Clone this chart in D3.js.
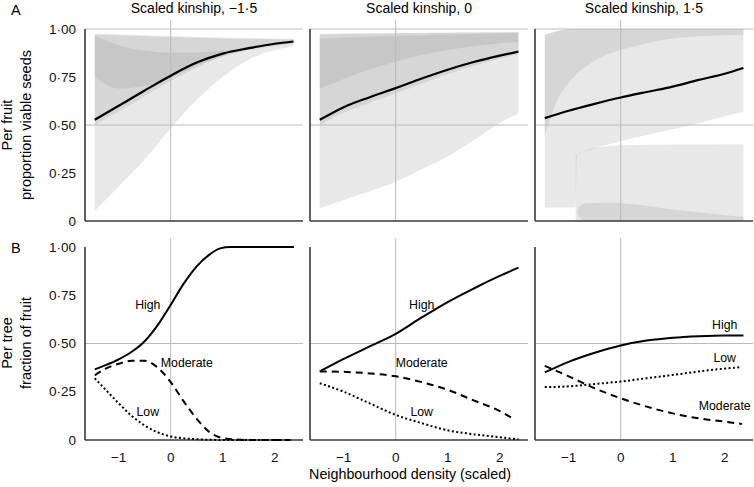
<!DOCTYPE html>
<html lang="en">
<head>
    <meta charset="UTF-8">
    <title>Seeds and fruit by neighbourhood density</title>
    <script src="https://d3js.org/d3.v7.min.js"></script>
    <style>
        body { margin: 0; background: #fff; }
        svg { font-family: "Liberation Sans", Arial, Helvetica, sans-serif; }
        .grid { stroke: #b9b9b9; stroke-width: 1; }
        .axis { stroke: #3a3a3a; stroke-width: 1.6; }
        .band { fill: #939393; fill-opacity: 0.21; }
        .tick { font-size: 13.5px; fill: #111; }
    </style>
</head>
<body>
<script>
    const width = 754;
    const height = 487;

    // titles / ticks
    const kinship = ["Scaled kinship, \u22121\u00b75", "Scaled kinship, 0", "Scaled kinship, 1\u00b75"];
    const yTicks = [0, 0.25, 0.5, 0.75, 1];
    const xTicks = [-1, 0, 1, 2];

    // top row: mean proportion of viable seeds
    const xs = [-1.46, -1, -0.5, 0, 0.5, 1, 1.5, 2, 2.36];
    const viable = [
        [0.527, 0.600, 0.680, 0.757, 0.825, 0.872, 0.900, 0.923, 0.935],
        [0.527, 0.593, 0.645, 0.692, 0.742, 0.788, 0.828, 0.861, 0.882],
        [0.536, 0.574, 0.610, 0.643, 0.672, 0.700, 0.735, 0.767, 0.797]
    ];

    // shaded intervals, rows of [x, lower, upper]
    const bandsK1 = [
        xs.map((x, i) => [x, [0.052, 0.18, 0.32, 0.483, 0.63, 0.75, 0.84, 0.89, 0.91][i], [0.975, 0.972, 0.968, 0.963, 0.958, 0.955, 0.952, 0.95, 0.948][i]]),
        xs.map((x, i) => [x, [0.50, 0.57, 0.65, 0.73, 0.80, 0.855, 0.89, 0.912, 0.925][i], [0.972, 0.968, 0.962, 0.958, 0.954, 0.951, 0.949, 0.947, 0.945][i]]),
        xs.map((x, i) => [x, [0.75, 0.69, 0.705, 0.745, 0.81, 0.86, 0.893, 0.915, 0.928][i], [0.965, 0.915, 0.888, 0.877, 0.878, 0.888, 0.905, 0.922, 0.935][i]])
    ];
    const bandsK2 = [
        xs.map((x, i) => [x, [0.066, 0.11, 0.155, 0.205, 0.27, 0.336, 0.42, 0.51, 0.56][i], [0.975, 0.977, 0.978, 0.98, 0.981, 0.982, 0.983, 0.984, 0.985][i]]),
        xs.map((x, i) => [x, [0.50, 0.565, 0.615, 0.665, 0.715, 0.765, 0.808, 0.845, 0.87][i], [0.972, 0.974, 0.975, 0.977, 0.978, 0.979, 0.98, 0.981, 0.982][i]]),
        xs.map((x, i) => [x, [0.69, 0.74, 0.79, 0.83, 0.865, 0.89, 0.91, 0.925, 0.932][i], [0.95, 0.955, 0.96, 0.965, 0.968, 0.971, 0.974, 0.976, 0.978][i]])
    ];
    const bandsK3 = [
        [[-1.46, 0.07, 0.97], [-1.2, 0.07, 0.99], [-0.87, 0.07, 1.0], [-0.84, 0.344, 1.0], [-0.5, 0.378, 1.0], [0, 0.415, 1.0],
         [0.5, 0.448, 1.0], [1, 0.478, 1.0], [1.5, 0.51, 1.0], [2, 0.545, 1.0], [2.36, 0.57, 1.0]],
        [[-1.46, 0.44, 0.97], [-1.2, 0.64, 0.99], [-1, 0.72, 1.0], [-0.5, 0.835, 1.0], [0, 0.89, 1.0], [0.5, 0.925, 1.0],
         [1, 0.95, 1.0], [1.5, 0.962, 1.0], [2, 0.968, 1.0], [2.36, 0.97, 1.0]],
        [[-0.865, 0.0, 0.344], [-0.6, 0.0, 0.375], [-0.37, 0.0, 0.387], [0, 0.0, 0.395], [1, 0.0, 0.398], [2.36, 0.0, 0.40]],
        [[-0.84, 0.047, 0.047], [-0.78, 0.015, 0.08], [-0.65, 0.0, 0.092], [-0.3, 0.0, 0.095], [0, 0.0, 0.093], [0.5, 0.0, 0.08],
         [1, 0.0, 0.06], [1.5, 0.0, 0.045], [2, 0.0, 0.03], [2.36, 0.0, 0.022]]
    ];
    const bands = [bandsK1, bandsK2, bandsK3];

    // bottom row: fraction of fruit per tree, rows of [x, y]
    const fruitHigh = [
        [[-1.46, 0.366], [-1.25, 0.388], [-1, 0.418], [-0.75, 0.457], [-0.5, 0.512], [-0.25, 0.595], [0, 0.70], [0.25, 0.81],
         [0.5, 0.90], [0.75, 0.962], [0.95, 0.993], [1.15, 1.0], [1.5, 1.0], [2, 1.0], [2.37, 1.0]],
        [[-1.46, 0.355], [-1, 0.42], [-0.5, 0.485], [0, 0.55], [0.5, 0.635], [1, 0.715], [1.5, 0.785], [2, 0.85], [2.36, 0.893]],
        [[-1.46, 0.35], [-1, 0.405], [-0.5, 0.452], [0, 0.49], [0.5, 0.515], [1, 0.53], [1.5, 0.538], [2, 0.542], [2.36, 0.542]]
    ];
    const fruitModerate = [
        [[-1.46, 0.335], [-1.25, 0.37], [-1, 0.395], [-0.75, 0.41], [-0.5, 0.41], [-0.25, 0.375], [0, 0.30], [0.25, 0.20],
         [0.5, 0.11], [0.75, 0.04], [1, 0.01], [1.5, 0.0], [2, 0.0], [2.3, 0.0]],
        [[-1.46, 0.355], [-1, 0.353], [-0.5, 0.345], [0, 0.33], [0.5, 0.30], [1, 0.26], [1.5, 0.205], [2, 0.15], [2.26, 0.11]],
        [[-1.46, 0.384], [-1, 0.33], [-0.5, 0.268], [0, 0.216], [0.5, 0.173], [1, 0.138], [1.5, 0.112], [2, 0.095], [2.33, 0.083]]
    ];
    const fruitLow = [
        [[-1.46, 0.32], [-1.25, 0.26], [-1, 0.19], [-0.75, 0.125], [-0.5, 0.075], [-0.25, 0.04], [0, 0.018], [0.5, 0.004],
         [1, 0.0], [2.3, 0.0]],
        [[-1.46, 0.294], [-1, 0.25], [-0.5, 0.19], [0, 0.13], [0.5, 0.087], [1, 0.05], [1.5, 0.03], [2, 0.014], [2.36, 0.004]],
        [[-1.46, 0.274], [-1, 0.278], [-0.5, 0.29], [0, 0.303], [0.5, 0.32], [1, 0.337], [1.5, 0.355], [2, 0.37], [2.3, 0.377]]
    ];
    // label positions in data units [x, y], order High, Moderate, Low
    const labelText = ["High", "Moderate", "Low"];
    const labelAt = [
        [[-0.44, 0.70], [0.31, 0.40], [-0.44, 0.145]],
        [[0.5, 0.70], [0.5, 0.40], [0.5, 0.145]],
        [[2.0, 0.60], [2.0, 0.176], [2.0, 0.425]]
    ];

    const svg = d3.select("body").append("svg")
        .attr("width", width).attr("height", height);

    const panelLeft = [85, 310, 535];
    const panelW = 218;
    const rows = [{top: 29, bottom: 221}, {top: 247, bottom: 440}];

    const fmtY = d => d === 0 ? "0" : d3.format(".2f")(d).replace(".", "\u00b7");
    const fmtX = d => d < 0 ? "\u2212" + Math.abs(d) : String(d);

    function panel(col, row) {
        const x0 = panelLeft[col];
        const x = d3.scaleLinear().domain([-1.648, 2.544]).range([x0, x0 + panelW]);
        const y = d3.scaleLinear().domain([0, 1]).range([rows[row].bottom, rows[row].top]);
        const g = svg.append("g");

        // shaded bands first
        if (row === 0) {
            const area = d3.area().curve(d3.curveMonotoneX)
                .x(d => x(d[0])).y0(d => y(d[1])).y1(d => y(d[2]));
            g.selectAll("path.band").data(bands[col]).enter()
                .append("path").attr("class", "band").attr("d", area);
        }

        // grid
        const gl = row === 0 ? [0.5, 1] : [0.5];
        g.selectAll("line.hgrid").data(gl).enter().append("line")
            .attr("class", "grid")
            .attr("x1", x0).attr("x2", x0 + panelW)
            .attr("y1", d => y(d)).attr("y2", d => y(d));
        g.append("line").attr("class", "grid")
            .attr("x1", x(0)).attr("x2", x(0))
            .attr("y1", rows[row].top - 9).attr("y2", rows[row].bottom);

        // axes
        g.append("line").attr("class", "axis")
            .attr("x1", x0).attr("x2", x0)
            .attr("y1", rows[row].top).attr("y2", rows[row].bottom);
        g.append("line").attr("class", "axis")
            .attr("x1", x0).attr("x2", x0 + panelW)
            .attr("y1", rows[row].bottom).attr("y2", rows[row].bottom);

        const line = d3.line().curve(d3.curveMonotoneX).x(d => x(d[0])).y(d => y(d[1]));

        if (row === 0) {
            g.append("path")
                .attr("d", line(xs.map((v, i) => [v, viable[col][i]])))
                .attr("fill", "none").attr("stroke", "#000").attr("stroke-width", 2.2);
            g.append("text").attr("x", x0 + panelW / 2).attr("y", 13)
                .attr("text-anchor", "middle").attr("font-size", "14px").text(kinship[col]);
        } else {
            const series = [fruitHigh[col], fruitModerate[col], fruitLow[col]];
            const dash = [null, "7,5", "2,2.4"];
            series.forEach((s, i) => {
                g.append("path").attr("d", line(s))
                    .attr("fill", "none").attr("stroke", "#000").attr("stroke-width", 2)
                    .attr("stroke-dasharray", dash[i]);
            });
            labelAt[col].forEach((p, i) => {
                g.append("text").attr("x", x(p[0])).attr("y", y(p[1]))
                    .attr("text-anchor", "middle").attr("dy", "0.35em")
                    .attr("font-size", "12.3px").text(labelText[i]);
            });
            g.selectAll("text.xt").data(xTicks).enter().append("text")
                .attr("class", "tick").attr("x", d => x(d)).attr("y", 462)
                .attr("text-anchor", "middle").text(fmtX);
        }

        if (col === 0) {
            g.selectAll("text.yt").data(yTicks).enter().append("text")
                .attr("class", "tick").attr("x", 76).attr("y", d => y(d))
                .attr("dy", "0.35em").attr("text-anchor", "end").text(fmtY);
        }
    }

    for (let r = 0; r < 2; r++) {
        for (let c = 0; c < 3; c++) panel(c, r);
    }

    // panel letters
    svg.append("text").attr("x", 11).attr("y", 15).attr("font-size", "14.5px").text("A");
    svg.append("text").attr("x", 11).attr("y", 253).attr("font-size", "14.5px").text("B");

    // y axis titles
    const ytitles = [["Per fruit", "proportion viable seeds", 125], ["Per tree", "fraction of fruit", 343]];
    ytitles.forEach(t => {
        const tg = svg.append("g").attr("transform", `translate(0,${t[2]}) rotate(-90)`);
        tg.append("text").attr("x", 0).attr("y", 12).attr("text-anchor", "middle")
            .attr("font-size", "14.5px").text(t[0]);
        tg.append("text").attr("x", 0).attr("y", 31).attr("text-anchor", "middle")
            .attr("font-size", "14.5px").text(t[1]);
    });

    svg.append("text").attr("x", 410).attr("y", 479).attr("text-anchor", "middle")
        .attr("font-size", "14.3px").text("Neighbourhood density (scaled)");
</script>
</body>
</html>
